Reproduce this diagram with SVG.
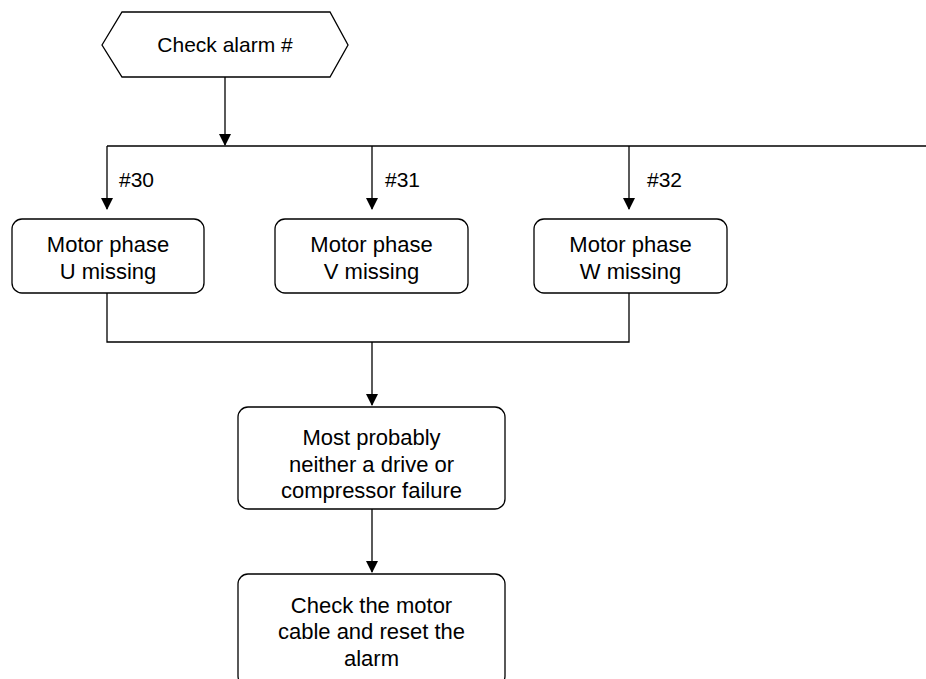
<svg xmlns="http://www.w3.org/2000/svg" width="926" height="679" viewBox="0 0 926 679">
<style>
.n{fill:#fff;stroke:#000;stroke-width:1.3}
.c{fill:none;stroke:#000;stroke-width:1.3}
text{font-family:"Liberation Sans",Arial,sans-serif;font-size:22px;fill:#000}
.m{text-anchor:middle}
</style>
<defs>
<marker id="ah" markerWidth="12" markerHeight="14" refX="11" refY="6" orient="auto" markerUnits="userSpaceOnUse" viewBox="0 0 12 12">
<path d="M0,0 L12,6 L0,12 Z" fill="#000"/>
</marker>
</defs>
<rect width="926" height="679" fill="#fff"/>
<g id="connectors">
<line class="c" x1="225" y1="77" x2="225" y2="145" marker-end="url(#ah)"/>
<line class="c" x1="107" y1="146" x2="926" y2="146"/>
<line class="c" x1="107" y1="146" x2="107" y2="209" marker-end="url(#ah)"/>
<line class="c" x1="372" y1="146" x2="372" y2="209" marker-end="url(#ah)"/>
<line class="c" x1="629" y1="146" x2="629" y2="209" marker-end="url(#ah)"/>
<polyline class="c" points="107,293 107,342 629,342 629,293"/>
<line class="c" x1="372" y1="342" x2="372" y2="405" marker-end="url(#ah)"/>
<line class="c" x1="372" y1="509" x2="372" y2="572" marker-end="url(#ah)"/>
<text x="119" y="187" style="font-size:21px">#30</text>
<text x="385" y="187" style="font-size:21px">#31</text>
<text x="647" y="187" style="font-size:21px">#32</text>
</g>
<g id="start">
<polygon class="n" points="102,45 122,12 330,12 348,45 330,77 122,77"/>
<text class="m" x="225" y="52" style="font-size:21px">Check alarm #</text>
</g>
<g id="u">
<rect class="n" x="12" y="219" width="192" height="74" rx="10"/>
<text class="m" x="108" y="252">Motor phase</text>
<text class="m" x="108" y="279">U missing</text>
</g>
<g id="v">
<rect class="n" x="275" y="219" width="193" height="74" rx="10"/>
<text class="m" x="371.5" y="252">Motor phase</text>
<text class="m" x="371.5" y="279">V missing</text>
</g>
<g id="w">
<rect class="n" x="534" y="219" width="193" height="74" rx="10"/>
<text class="m" x="630.5" y="252">Motor phase</text>
<text class="m" x="630.5" y="279">W missing</text>
</g>
<g id="probably">
<rect class="n" x="238" y="407" width="267" height="102" rx="10"/>
<text class="m" x="371.5" y="445">Most probably</text>
<text class="m" x="371.5" y="472">neither a drive or</text>
<text class="m" x="371.5" y="498">compressor failure</text>
</g>
<g id="check">
<rect class="n" x="238" y="574" width="267" height="112" rx="10"/>
<text class="m" x="371.5" y="613">Check the motor</text>
<text class="m" x="371.5" y="639">cable and reset the</text>
<text class="m" x="371.5" y="666">alarm</text>
</g>
</svg>
